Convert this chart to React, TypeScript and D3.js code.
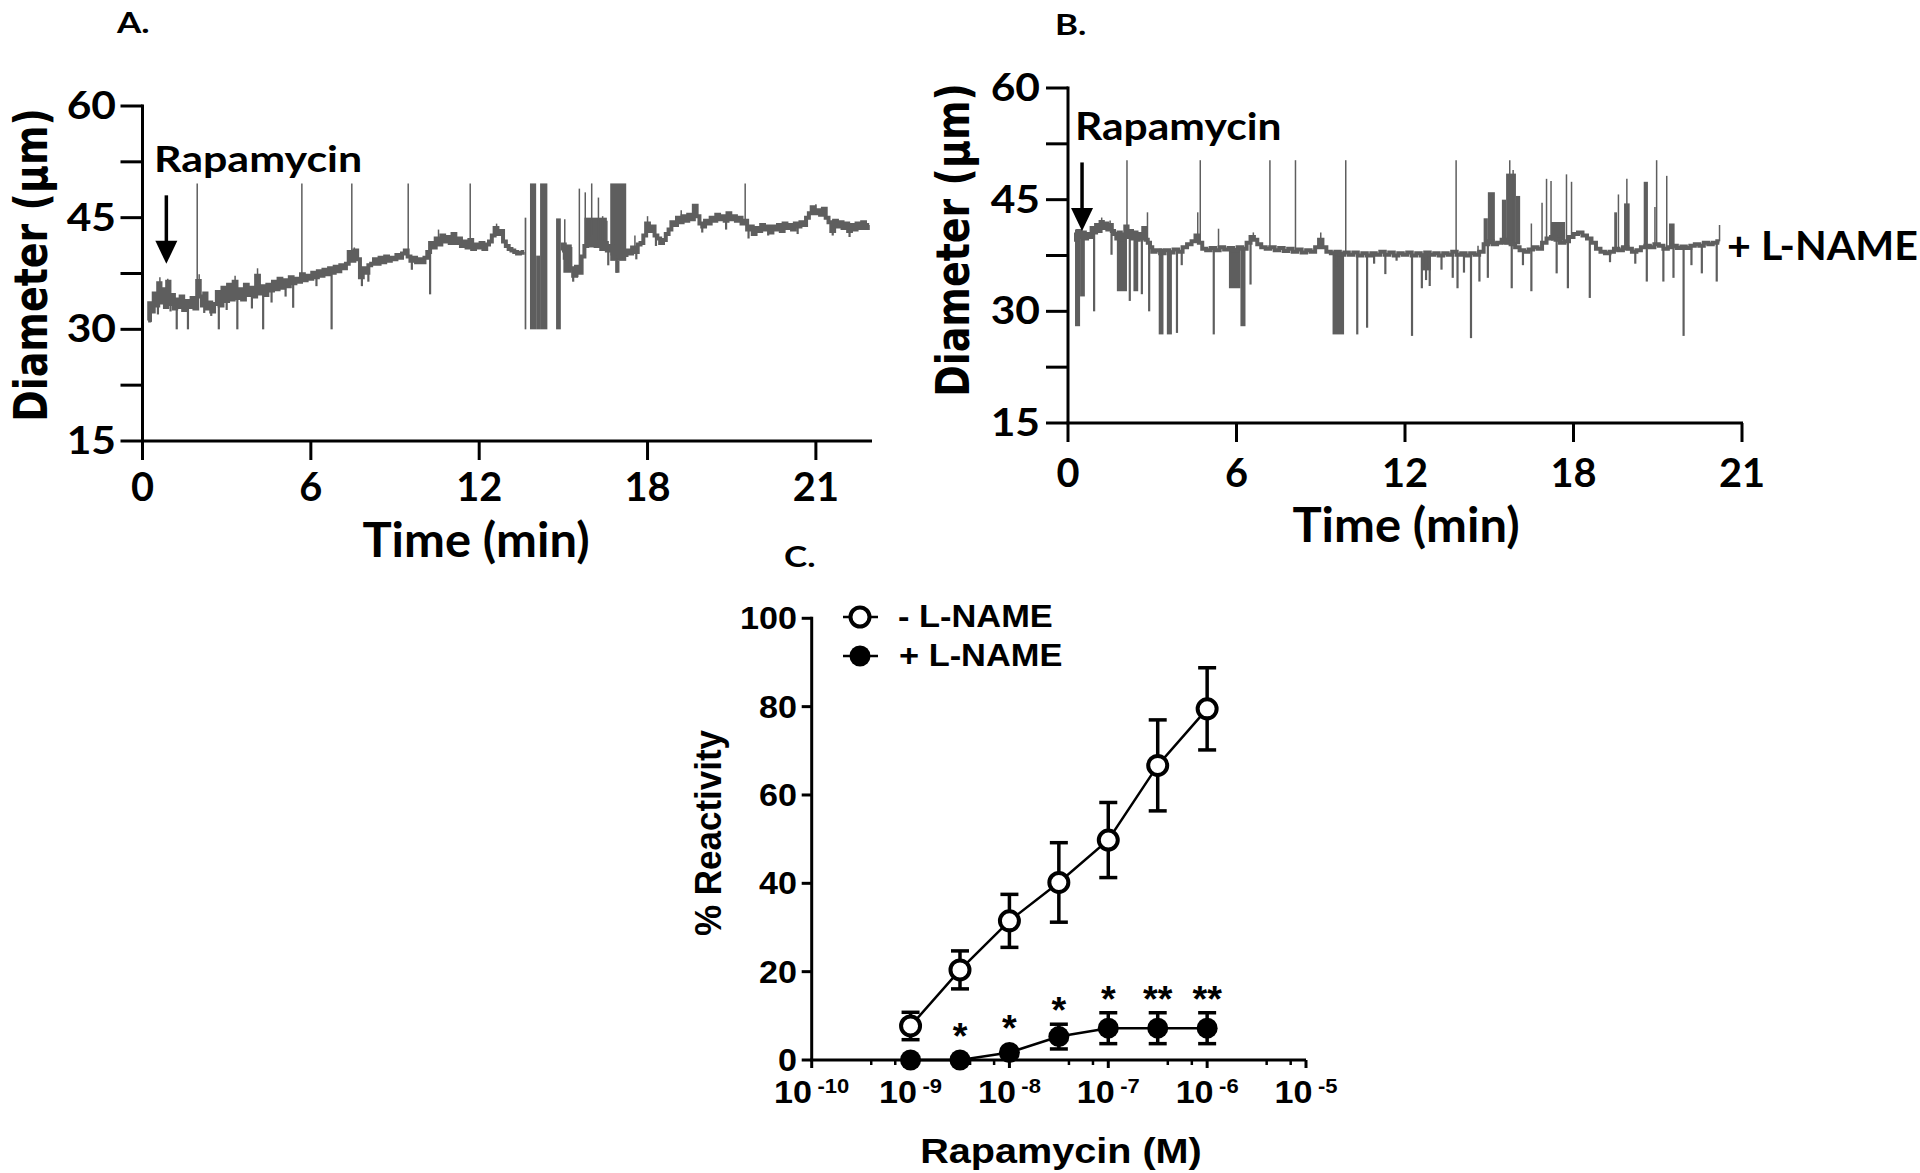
import React from "react";
import * as d3 from "d3";

type P = [number, number];
type Band = [number, number, number, number];

// ---------- Panel A (time course, no L-NAME) ----------
const A_BASE: P[] = [
  [0.2,31.2],[0.28,33.5],[0.36,32.4],[0.44,34.8],[0.52,33.2],[0.6,36.2],[0.68,33.6],[0.76,35.4],[0.84,33.0],[0.92,36.4],
  [1.0,33.4],[1.08,34.6],[1.16,32.8],[1.24,34.0],[1.32,33.0],[1.4,34.4],[1.5,32.6],[1.6,33.8],[1.7,33.0],[1.8,34.2],
  [1.9,32.8],[2.0,36.5],[2.08,34.4],[2.16,33.2],[2.24,34.8],[2.32,32.8],[2.4,33.6],[2.5,32.4],[2.6,33.4],[2.7,35.0],
  [2.8,33.2],[2.9,35.6],[3.0,33.8],[3.1,36.0],[3.2,34.0],[3.3,36.4],[3.4,34.2],[3.5,35.4],[3.6,34.0],[3.7,36.0],
  [3.8,34.6],[3.9,35.6],[4.0,34.4],[4.1,37.2],[4.2,34.8],[4.3,35.8],[4.4,34.6],[4.5,36.0],[4.6,35.2],[4.7,36.4],
  [4.8,35.4],[4.9,36.8],[5.0,35.6],[5.1,36.6],[5.2,35.8],[5.3,37.0],[5.4,36.2],[5.5,36.8],[5.6,36.4],[5.7,37.4],
  [5.8,36.6],[5.9,37.2],[6.0,36.8],[6.1,37.6],[6.2,37.0],[6.3,37.8],[6.4,37.2],[6.5,38.0],[6.6,37.4],[6.7,38.2],
  [6.8,37.6],[6.9,38.4],[7.0,37.8],[7.1,38.6],[7.2,38.2],[7.3,38.8],[7.4,40.4],[7.5,39.2],[7.6,40.6],[7.7,39.4],
  [7.8,37.0],[7.9,38.2],[8.0,37.6],[8.1,38.6],[8.2,38.8],[8.3,39.4],[8.4,38.8],[8.5,39.6],[8.6,39.0],[8.7,39.8],
  [8.8,39.2],[8.9,39.6],[9.0,39.4],[9.1,40.0],[9.2,39.6],[9.3,40.2],[9.4,40.6],[9.5,39.8],[9.6,39.2],[9.7,39.6],
  [9.8,39.0],[9.9,39.4],[10.0,39.0],[10.1,39.6],[10.2,40.4],[10.3,41.6],[10.4,41.0],[10.5,42.2],[10.6,41.4],[10.7,42.6],
  [10.8,41.8],[10.9,42.4],[11.0,41.6],[11.1,42.8],[11.2,41.6],[11.3,42.2],[11.4,41.2],[11.5,41.8],[11.6,41.0],[11.7,42.0],
  [11.8,40.8],[11.9,41.4],[12.0,41.0],[12.1,41.6],[12.2,40.8],[12.3,41.4],[12.4,41.8],[12.5,42.6],[12.6,43.6],[12.7,42.8],
  [12.8,43.2],[12.9,41.8],[13.0,41.2],[13.1,40.8],[13.2,40.6],[13.3,40.4],[13.4,40.2],[13.5,40.3],[13.6,40.4],
  [14.95,40.6],[15.0,41.4],[15.1,39.6],[15.2,40.8],[15.3,38.2],[15.4,37.2],[15.5,38.4],[15.6,37.6],[15.7,39.8],
  [15.8,41.2],[15.9,42.2],[16.0,41.6],[16.1,42.4],[16.2,41.2],[16.3,41.8],[16.4,40.8],[16.5,41.6],[16.6,40.6],[16.7,41.2],
  [16.8,40.2],[16.9,41.0],[17.0,39.8],[17.1,40.6],[17.2,40.0],[17.3,40.6],[17.4,40.2],[17.5,41.0],[17.6,40.4],[17.7,41.4],
  [17.8,41.6],[17.9,42.6],[18.0,44.2],[18.1,43.2],[18.2,43.8],[18.3,42.6],[18.4,42.2],[18.5,41.6],[18.6,42.0],[18.7,42.8],
  [18.8,43.4],[18.9,44.4],[19.0,44.0],[19.1,45.0],[19.2,44.4],[19.3,45.2],[19.4,44.6],[19.5,45.4],[19.6,44.8],[19.7,46.6],
  [19.8,45.2],[19.9,44.2],[20.0,43.8],[20.1,44.6],[20.2,44.2],[20.3,45.0],[20.4,44.6],[20.5,45.4],[20.6,44.8],[20.7,45.2],
  [20.8,44.6],[20.9,45.6],[21.0,44.8],[21.1,45.2],[21.2,44.6],[21.3,45.0],[21.4,44.2],[21.5,44.6],[21.6,43.4],[21.7,43.8],
  [21.8,42.8],[21.9,43.6],[22.0,43.2],[22.1,44.0],[22.2,43.4],[22.3,43.8],[22.4,43.0],[22.5,43.8],[22.6,43.4],[22.7,44.0],
  [22.8,43.2],[22.9,44.2],[23.0,43.6],[23.1,44.0],[23.2,43.4],[23.3,44.2],[23.4,43.8],[23.5,44.4],[23.6,44.0],[23.7,45.0],
  [23.8,45.6],[23.9,46.4],[24.0,45.6],[24.1,46.0],[24.2,45.4],[24.3,46.2],[24.4,45.0],[24.5,44.4],[24.6,43.2],[24.7,44.6],
  [24.8,43.8],[24.9,44.4],[25.0,43.6],[25.1,44.2],[25.2,43.2],[25.3,44.0],[25.4,43.4],[25.5,44.2],[25.6,43.6],[25.7,44.4],
  [25.8,43.6],[25.9,44.0]
];
// spikes: [time, value reached]
const A_SPIKES: P[] = [
  [1.95,49.6],[5.68,49.6],[7.46,49.6],[9.47,49.6],[11.68,49.6],[21.48,49.6],
  [15.57,48.9],[15.78,48.4],[16.01,49.6],[16.25,47.7],[15.05,44.8],[16.4,45.2],[16.55,44.6],[17.55,42.6],[18.0,45.2],
  [12.62,44.2],[10.55,43.4],[4.1,38.2],[3.3,37.2],[0.62,37.0],[0.9,36.8],[2.02,37.4],[7.55,41.0],[24.0,46.8],[19.2,46.0],
  [1.22,30],[1.62,30],[2.72,30],[3.38,30],[4.3,30],[6.74,30],[5.37,32.9],[10.25,34.7],
  [0.3,31.0],[0.55,32.0],[1.0,32.4],[2.2,32.2],[2.45,31.8],[3.0,32.6],[3.9,32.8],[4.6,33.6],[5.1,34.4],[6.2,35.8],
  [7.82,35.8],[8.05,36.4],[9.6,38.0],[15.35,36.4],[15.5,37.0],[16.9,37.6],[16.6,38.6],[17.6,39.4],[18.3,41.2],
  [19.95,43.0],[20.8,43.4],[21.6,42.2],[22.3,42.6],[23.35,42.8],[24.6,42.6],[25.2,42.4]
];
// dense blocks: [t0, t1, low, high]
const A_BANDS: Band[] = [
  [13.62,13.68,30,45],[13.81,14.03,30,49.6],[14.03,14.17,30,39.9],[14.17,14.43,30,49.6],[14.74,14.91,30,44.9],
  [15.0,15.3,37.6,41.4],[15.75,16.55,41,45],[16.67,17.24,39.2,49.6],[16.85,17.0,37.6,39.2]
];

// ---------- Panel B (time course, + L-NAME) ----------
const B_BASE: P[] = [
  [0.25,40.6],[0.32,39.6],[0.4,40.8],[0.48,40.0],[0.56,40.6],[0.64,39.8],[0.72,40.4],[0.8,40.0],[0.88,41.2],[0.96,40.6],
  [1.04,41.6],[1.12,40.8],[1.2,42.0],[1.28,41.2],[1.36,41.8],[1.44,41.0],[1.52,41.6],[1.6,40.8],[1.68,40.4],[1.76,39.8],
  [1.84,40.6],[1.92,39.6],[2.0,40.2],[2.08,41.4],[2.16,40.0],[2.24,40.8],[2.32,39.8],[2.4,40.6],[2.48,39.6],[2.56,40.4],
  [2.64,39.8],[2.72,41.2],[2.8,39.6],[2.88,39.2],[2.96,38.6],[3.04,38.0],[3.2,38.2],[3.36,37.8],[3.52,38.2],[3.68,37.9],
  [3.84,38.3],[4.0,38.0],[4.16,38.6],[4.32,39.0],[4.48,39.4],[4.6,40.2],[4.72,39.2],[4.84,38.4],[5.0,38.2],[5.16,38.5],
  [5.32,38.2],[5.48,38.6],[5.64,38.3],[5.8,38.5],[5.96,38.2],[6.12,38.6],[6.28,38.4],[6.44,39.2],[6.56,40.0],[6.68,39.6],
  [6.8,39.0],[6.96,38.6],[7.12,38.4],[7.28,38.6],[7.44,38.2],[7.6,38.5],[7.76,38.1],[7.92,38.4],[8.08,38.0],[8.24,38.3],
  [8.4,37.9],[8.56,38.2],[8.72,38.0],[8.88,38.6],[9.0,39.6],[9.12,38.6],[9.28,38.0],[9.44,37.8],[9.6,38.0],[9.76,37.6],
  [9.92,37.9],[10.08,37.6],[10.24,37.9],[10.4,37.5],[10.56,37.8],[10.72,37.5],[10.88,37.8],[11.04,37.6],[11.2,38.0],[11.36,37.6],
  [11.52,37.9],[11.68,37.5],[11.84,37.8],[12.0,37.6],[12.16,37.9],[12.32,37.5],[12.48,37.8],[12.64,37.5],[12.8,37.9],[12.96,37.6],
  [13.12,37.8],[13.28,37.5],[13.44,37.8],[13.6,37.6],[13.76,38.0],[13.92,37.6],[14.08,37.8],[14.24,37.5],[14.4,37.8],[14.56,37.6],
  [14.72,38.0],[14.88,39.0],[15.04,39.4],[15.2,39.0],[15.36,39.2],[15.52,39.6],[15.68,39.2],[15.84,39.0],[16.0,38.6],[16.16,38.2],
  [16.32,38.0],[16.48,38.3],[16.64,38.6],[16.8,38.4],[16.96,39.2],[17.12,39.8],[17.28,40.0],[17.44,39.6],[17.6,39.2],[17.76,39.4],
  [17.92,40.0],[18.08,40.4],[18.24,40.6],[18.4,40.2],[18.56,39.8],[18.72,39.2],[18.88,38.4],[19.04,38.0],[19.2,37.8],[19.36,38.0],
  [19.52,38.4],[19.68,38.2],[19.84,38.6],[20.0,38.4],[20.16,38.0],[20.32,38.2],[20.48,38.6],[20.64,38.8],[20.8,38.6],[20.96,39.0],
  [21.12,38.8],[21.28,38.4],[21.44,38.6],[21.6,38.8],[21.76,38.5],[21.92,38.7],[22.08,38.5],[22.24,38.8],[22.4,39.0],[22.56,38.8],
  [22.72,39.2],[22.88,39.0],[23.04,39.2],[23.2,39.4]
];
const B_SPIKES: P[] = [
  [2.1,50.3],[4.71,50.3],[7.19,50.3],[8.1,50.3],[9.89,50.3],[13.82,50.3],[15.73,50.3],[20.96,50.3],
  [2.83,43.3],[4.62,43.3],[5.36,41.1],[9.0,40.6],[1.2,42.6],[1.5,42.2],[6.6,40.6],[16.5,41.8],[17.04,47.8],[17.2,47.5],
  [17.75,48.4],[17.93,47.4],[19.6,45.7],[19.9,47.8],[21.32,48.2],[23.2,41.6],[15.85,49.0],[16.88,44.6],[20.9,44.0],[14.6,38.8],
  [0.93,30],[2.2,31.4],[2.63,32.3],[2.89,30],[3.88,27.1],[5.19,26.9],[6.5,33.6],[10.3,26.9],[10.65,27.8],[11.3,35],
  [12.25,26.7],[12.6,33.1],[12.75,34.2],[12.88,33.4],[13.87,33.1],[14.35,26.4],[13.7,34.5],[14.65,34],[14.95,34.5],
  [15.8,33.1],[16.5,32.7],[17.4,35.1],[17.8,33.1],[18.58,31.8],[20.61,34],[21.2,34],[21.56,34.5],[21.92,26.7],[22.57,35.1],
  [23.1,34],[1.55,37.6],[4.05,36.2],[9.55,36.0],[10.9,36.4],[11.7,36.8],[13.3,35.6],[14.1,35.2],[16.2,36.2],[19.3,36.6],
  [20.2,36.4],[22.2,36.2]
];
const B_BANDS: Band[] = [
  [0.25,0.43,28,41],[0.43,0.6,32,40.4],[1.74,2.1,32.7,40.6],[2.33,2.5,32.7,40.2],[3.23,3.4,26.9,38.4],[3.52,3.7,26.9,38.2],
  [5.73,6.14,33.1,38.5],[6.14,6.32,28,38.5],[9.42,9.83,26.9,38],[14.8,14.95,39,42.5],[14.95,15.2,39,46],[15.45,15.6,39,45],
  [15.6,15.95,39,48.5],[15.95,16.1,39,45.5],[17.2,17.7,39.5,42],[19.45,19.55,38,43.3],[19.8,20.0,38.2,44.5],
  [20.5,20.65,38.5,47.4],[21.4,21.6,38.5,41.8],[12.57,12.92,35.5,37.8]
];

// arrows: [time, top value, tip value]
const A_ARROW: [number, number, number] = [0.85, 48, 38.8];
const B_ARROW: [number, number, number] = [0.5, 50, 40.8];

const TIME_TICKS = [0, 6, 12, 18, 24];
const TIME_TICK_LABELS = ["0", "6", "12", "18", "21"];
const DIAM_TICKS = [15, 22.5, 30, 37.5, 45, 52.5, 60];
const DIAM_LABELS = [15, 30, 45, 60];

// ---------- Panel C (concentration-response) ----------
const C_LOGX = [-9, -8.5, -8, -7.5, -7, -6.5, -6];
const C_MINUS_MEAN = [7.7, 20.4, 31.5, 40.2, 49.8, 66.7, 79.5];
const C_MINUS_ERR = [3.1, 4.3, 6.0, 9.0, 8.5, 10.3, 9.3];
const C_PLUS_MEAN = [0, 0, 1.7, 5.3, 7.2, 7.2, 7.2];
const C_PLUS_ERR = [0, 0, 0.8, 2.8, 3.5, 3.5, 3.5];
const C_STARS = ["", "*", "*", "*", "*", "**", "**"];
const C_Y_TICKS = [0, 20, 40, 60, 80, 100];
const C_DECADES = [-10, -9, -8, -7, -6, -5];
const C_MINOR_MULT = [4, 7];

const GREY = "#5e5e5e";
const LATO = "Lato, 'Open Sans', sans-serif";
const ARIAL = "'Liberation Sans', Arial, sans-serif";
const DEJAVU = "'DejaVu Sans', Verdana, sans-serif";

function Txt({ x, y, size, family, anchor = "start", sx = 1, sy = 1, rot = 0, weight = "bold", children }: any) {
  return (
    <g transform={`translate(${x},${y}) rotate(${rot}) scale(${sx},${sy})`}>
      <text x={0} y={0} fontSize={size} fontFamily={family} fontWeight={weight} textAnchor={anchor} fill="#000">
        {children}
      </text>
    </g>
  );
}

function baseAt(base: P[], t: number): number {
  const i = d3.bisector((d: P) => d[0]).left(base, t);
  if (i <= 0) return base[0][1];
  if (i >= base.length) return base[base.length - 1][1];
  const a = base[i - 1], b = base[i];
  return a[1] + ((b[1] - a[1]) * (t - a[0])) / (b[0] - a[0]);
}

function segments(base: P[], maxGap: number): P[][] {
  const out: P[][] = [];
  let cur: P[] = [];
  base.forEach((p, i) => {
    if (i > 0 && p[0] - base[i - 1][0] > maxGap) { out.push(cur); cur = []; }
    cur.push(p);
  });
  if (cur.length) out.push(cur);
  return out;
}

function Trace({ base, spikes, bands, x, y }: any) {
  const line = d3.line<P>().x((d) => x(d[0])).y((d) => y(d[1])).curve(d3.curveStep);
  return (
    <g>
      {bands.map((b: Band, i: number) => (
        <rect key={"b" + i} x={x(b[0])} width={Math.max(1.6, x(b[1]) - x(b[0]))} y={y(b[3])} height={y(b[2]) - y(b[3])} fill={GREY} />
      ))}
      {spikes.map((s: P, i: number) => {
        const b0 = baseAt(base, s[0]);
        const down = s[1] < b0;
        return <line key={"s" + i} x1={x(s[0])} x2={x(s[0])} y1={y(b0)} y2={y(s[1])} stroke={GREY} strokeWidth={down ? 2.2 : 1.5} />;
      })}
      {segments(base, 0.6).map((seg, i) => (
        <path key={"p" + i} d={line(seg) || ""} fill="none" stroke={GREY} strokeWidth={4} />
      ))}
    </g>
  );
}

function TraceAxes({ x, y, xEnd, yLabelRight, xLabelBase, xTitleBase, xTitleX, yTitleX, yTitleY }: any) {
  const x0 = x(0);
  const yb = y(15);
  return (
    <g>
      <g stroke="#000" strokeWidth={3}>
        <line x1={x0} x2={x0} y1={y(60) - 1.5} y2={yb} />
        <line x1={x0 - 1.5} x2={xEnd} y1={yb} y2={yb} />
        {DIAM_TICKS.map((v) => <line key={v} x1={x0 - 22} x2={x0} y1={y(v)} y2={y(v)} />)}
        {TIME_TICKS.map((t) => <line key={t} x1={x(t)} x2={x(t)} y1={yb} y2={yb + 19} />)}
      </g>
      {DIAM_LABELS.map((v) => (
        <Txt key={v} x={yLabelRight} y={y(v) + 13} size={38} family={LATO} anchor="end" sx={1.12}>{String(v)}</Txt>
      ))}
      {TIME_TICKS.map((t, i) => (
        <Txt key={t} x={x(t)} y={xLabelBase} size={41} family={LATO} anchor="middle" sx={0.97}>{TIME_TICK_LABELS[i]}</Txt>
      ))}
      <Txt x={xTitleX} y={xTitleBase} size={47} family={LATO} anchor="middle" sx={1.04}>Time (min)</Txt>
      <Txt x={yTitleX} y={yTitleY} size={38} family={DEJAVU} anchor="middle" rot={-90} sy={1.22}>Diameter (μm)</Txt>
    </g>
  );
}

function Arrow({ x, y, a }: any) {
  const ax = x(a[0]);
  const yTop = y(a[1]);
  const yTip = y(a[2]);
  const headH = 23;
  return (
    <g>
      <line x1={ax} x2={ax} y1={yTop} y2={yTip - headH + 2} stroke="#000" strokeWidth={3.5} />
      <path d={`M${ax - 11},${yTip - headH} L${ax + 11},${yTip - headH} L${ax},${yTip} Z`} fill="#000" />
    </g>
  );
}

export default function App() {
  // Panel A scales
  const xA = d3.scaleLinear().domain([0, 26]).range([142.5, 872]);
  const yA = d3.scaleLinear().domain([15, 60]).range([441, 106]);
  // Panel B scales
  const xB = d3.scaleLinear().domain([0, 24]).range([1068, 1742]);
  const yB = d3.scaleLinear().domain([15, 60]).range([423, 88]);
  // Panel C scales
  const xC = d3.scaleLog().domain([1e-10, 1e-5]).range([811.7, 1306]);
  const yC = d3.scaleLinear().domain([0, 100]).range([1060, 618.3]);

  const pts = C_LOGX.map((lx, i) => ({
    x: xC(Math.pow(10, lx)),
    m: C_MINUS_MEAN[i], me: C_MINUS_ERR[i],
    p: C_PLUS_MEAN[i], pe: C_PLUS_ERR[i], star: C_STARS[i],
  }));
  const lineC = d3.line<[number, number]>().x((d) => d[0]).y((d) => d[1]);
  const minor: number[] = [];
  C_DECADES.slice(0, -1).forEach((d) => C_MINOR_MULT.forEach((m) => minor.push(m * Math.pow(10, d))));

  const cap = 9;
  return (
    <svg width={1920} height={1173} style={{ position: "absolute", left: 0, top: 0, background: "#fff" }}>
      <rect x={0} y={0} width={1920} height={1173} fill="#fff" />
      {/* ---------- Panel A ---------- */}
      <Txt x={117} y={33} size={28} family={LATO} sx={1.25}>A.</Txt>
      <Trace base={A_BASE} spikes={A_SPIKES} bands={A_BANDS} x={xA} y={yA} />
      <TraceAxes x={xA} y={yA} xEnd={872} yLabelRight={116} xLabelBase={501} xTitleBase={557} xTitleX={476} yTitleX={47} yTitleY={265} />
      <Txt x={154} y={172} size={37} family={LATO} sx={1.16}>Rapamycin</Txt>
      <Arrow x={xA} y={yA} a={A_ARROW} />

      {/* ---------- Panel B ---------- */}
      <Txt x={1055} y={35} size={28} family={LATO} sx={1.25}>B.</Txt>
      <Trace base={B_BASE} spikes={B_SPIKES} bands={B_BANDS} x={xB} y={yB} />
      <TraceAxes x={xB} y={yB} xEnd={1743} yLabelRight={1040} xLabelBase={487} xTitleBase={542} xTitleX={1406} yTitleX={969} yTitleY={240} />
      <Txt x={1075} y={140} size={38} family={LATO} sx={1.12}>Rapamycin</Txt>
      <Arrow x={xB} y={yB} a={B_ARROW} />
      <Txt x={1727} y={260} size={40} family={LATO} sx={1.03}>+ L-NAME</Txt>

      {/* ---------- Panel C ---------- */}
      <Txt x={784} y={567} size={28} family={LATO} sx={1.25}>C.</Txt>
      <g stroke="#000" strokeWidth={3}>
        <line x1={xC(1e-10)} x2={xC(1e-10)} y1={yC(100) - 1.5} y2={yC(0)} />
        <line x1={xC(1e-10) - 1.5} x2={xC(1e-5)} y1={yC(0)} y2={yC(0)} />
        {C_Y_TICKS.map((v) => <line key={v} x1={xC(1e-10) - 10} x2={xC(1e-10)} y1={yC(v)} y2={yC(v)} />)}
        {C_DECADES.map((d) => <line key={d} x1={xC(Math.pow(10, d))} x2={xC(Math.pow(10, d))} y1={yC(0)} y2={yC(0) + 8} />)}
        {minor.map((v, i) => <line key={i} x1={xC(v)} x2={xC(v)} y1={yC(0)} y2={yC(0) + 5} strokeWidth={2.5} />)}
      </g>
      {C_Y_TICKS.map((v) => (
        <Txt key={v} x={797} y={yC(v) + 11} size={31} family={ARIAL} anchor="end" sx={1.1}>{String(v)}</Txt>
      ))}
      {C_DECADES.map((d) => (
        <g key={d} transform={`translate(${xC(Math.pow(10, d))},1103) scale(1.1,1)`}>
          <text textAnchor="middle" fontFamily={ARIAL} fontWeight="bold" fontSize={31} fill="#000">
            10<tspan fontSize={20} dx={5} dy={-10}>{`-${Math.abs(d)}`}</tspan>
          </text>
        </g>
      ))}
      <Txt x={1061} y={1163} size={36} family={ARIAL} anchor="middle" sx={1.1}>Rapamycin (M)</Txt>
      <Txt x={721} y={833} size={35} family={ARIAL} anchor="middle" rot={-90} sy={1.05}>% Reactivity</Txt>

      {/* series lines */}
      <path d={lineC(pts.map((p) => [p.x, yC(p.m)])) || ""} fill="none" stroke="#000" strokeWidth={2.5} />
      <path d={lineC(pts.map((p) => [p.x, yC(p.p)])) || ""} fill="none" stroke="#000" strokeWidth={2.5} />
      {/* error bars */}
      <g stroke="#000" strokeWidth={3.5}>
        {pts.map((p, i) => (
          <g key={"em" + i}>
            <line x1={p.x} x2={p.x} y1={yC(p.m + p.me)} y2={yC(p.m - p.me)} />
            <line x1={p.x - cap} x2={p.x + cap} y1={yC(p.m + p.me)} y2={yC(p.m + p.me)} />
            <line x1={p.x - cap} x2={p.x + cap} y1={yC(p.m - p.me)} y2={yC(p.m - p.me)} />
          </g>
        ))}
        {pts.filter((p) => p.pe > 1).map((p, i) => (
          <g key={"ep" + i}>
            <line x1={p.x} x2={p.x} y1={yC(p.p + p.pe)} y2={yC(p.p - p.pe)} />
            <line x1={p.x - cap} x2={p.x + cap} y1={yC(p.p + p.pe)} y2={yC(p.p + p.pe)} />
            <line x1={p.x - cap} x2={p.x + cap} y1={yC(p.p - p.pe)} y2={yC(p.p - p.pe)} />
          </g>
        ))}
      </g>
      {pts.map((p, i) => <circle key={"om" + i} cx={p.x} cy={yC(p.m)} r={9.5} fill="#fff" stroke="#000" strokeWidth={4} />)}
      {pts.map((p, i) => <circle key={"fm" + i} cx={p.x} cy={yC(p.p)} r={10.5} fill="#000" />)}
      {pts.map((p, i) => {
        const top = Math.min(yC(p.p + p.pe), yC(p.p) - 10.5);
        return p.star ? (
          <Txt key={"st" + i} x={p.x} y={top - 1} size={36} family={ARIAL} anchor="middle" sx={1.05}>{p.star}</Txt>
        ) : null;
      })}
      {/* legend */}
      <line x1={843} x2={878} y1={617} y2={617} stroke="#000" strokeWidth={2.5} />
      <circle cx={860} cy={617} r={9.5} fill="#fff" stroke="#000" strokeWidth={4} />
      <Txt x={898} y={627} size={31} family={ARIAL} sx={1.11}>- L-NAME</Txt>
      <line x1={843} x2={878} y1={656} y2={656} stroke="#000" strokeWidth={2.5} />
      <circle cx={860} cy={656} r={10.5} fill="#000" />
      <Txt x={899} y={666} size={31} family={ARIAL} sx={1.11}>+ L-NAME</Txt>
    </svg>
  );
}
